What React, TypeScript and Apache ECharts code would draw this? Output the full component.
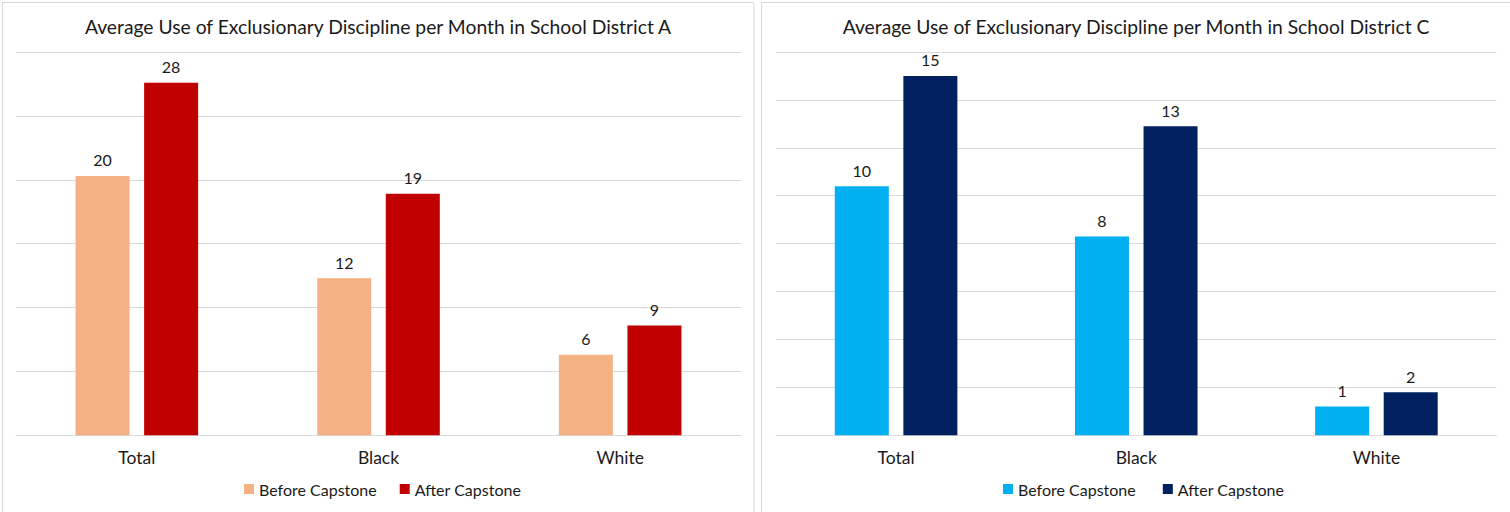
import React, { useEffect, useRef } from "react";
import * as echarts from "echarts";

const categories = ["Total", "Black", "White"];
const seriesNames = ["Before Capstone", "After Capstone"];
const districtABefore = [20.3, 12.3, 6.3];
const districtAAfter = [27.6, 18.9, 8.6];
const districtCBefore = [10.4, 8.3, 1.2];
const districtCAfter = [15.0, 12.9, 1.8];
const titles = [
  "Average Use of Exclusionary Discipline per Month in School District A",
  "Average Use of Exclusionary Discipline per Month in School District C",
];

const FONT = "Lato";
const TEXT = "#1a1a1a";
const GRID = "#d9d9d9";

export default function App() {
  const ref = useRef<HTMLDivElement>(null);
  useEffect(() => {
    document.body.style.margin = "0";
    const chart = echarts.init(ref.current!, null, { renderer: "svg" });
    const label = {
      show: true,
      position: "top",
      distance: 8,
      color: TEXT,
      fontFamily: FONT,
      fontSize: 16,
      formatter: (p: any) => String(Math.round(p.value)),
    };
    const mkSeries = (name: string, data: number[], color: string, idx: number) => ({
      type: "bar",
      name,
      data,
      xAxisIndex: idx,
      yAxisIndex: idx,
      barWidth: 54,
      barGap: "27%",
      itemStyle: { color },
      label,
    });
    const legendBase = {
      top: 476,
      icon: "rect",
      itemWidth: 10,
      itemHeight: 10,
      itemGap: 23,
      textStyle: { fontFamily: FONT, fontSize: 16, color: TEXT },
      selectedMode: false,
    };
    chart.setOption({
      animation: false,
      backgroundColor: "#ffffff",
      title: [373, 1131].map((x, i) => ({
        text: titles[i],
        left: x,
        textAlign: "center",
        top: 12,
        textStyle: { fontFamily: FONT, fontSize: 19.3, fontWeight: "normal", color: TEXT },
      })),
      legend: [
        {
          ...legendBase,
          left: 239,
          data: [
            { name: seriesNames[0], itemStyle: { color: "#F4B183" } },
            { name: seriesNames[1], itemStyle: { color: "#C00000" } },
          ],
        },
        {
          ...legendBase,
          left: 998,
          data: [
            { name: seriesNames[0] + " ", itemStyle: { color: "#00B0F0" } },
            { name: seriesNames[1] + " ", itemStyle: { color: "#002060" } },
          ],
        },
      ],
      grid: [
        { left: 16, width: 725, top: 52, height: 383.3 },
        { left: 776, width: 720.5, top: 52, height: 383.3 },
      ],
      xAxis: [0, 1].map((i) => ({
        type: "category",
        gridIndex: i,
        data: categories,
        axisLine: { lineStyle: { color: GRID } },
        axisTick: { show: false },
        axisLabel: { color: TEXT, fontFamily: FONT, fontSize: 17.5, margin: 13 },
      })),
      yAxis: [
        { type: "value", gridIndex: 0, min: 0, max: 30, interval: 5 },
        { type: "value", gridIndex: 1, min: 0, max: 16, interval: 2 },
      ].map((a) => ({
        ...a,
        axisLabel: { show: false },
        axisLine: { show: false },
        axisTick: { show: false },
        splitLine: { lineStyle: { color: GRID, width: 1 } },
      })),
      series: [
        mkSeries(seriesNames[0], districtABefore, "#F4B183", 0),
        mkSeries(seriesNames[1], districtAAfter, "#C00000", 0),
        mkSeries(seriesNames[0] + " ", districtCBefore, "#00B0F0", 1),
        mkSeries(seriesNames[1] + " ", districtCAfter, "#002060", 1),
      ],
      graphic: [
        {
          type: "rect",
          shape: { x: 2.5, y: 2.5, width: 751.5, height: 530 },
          style: { fill: "none", stroke: GRID, lineWidth: 1 },
          silent: true,
        },
        {
          type: "rect",
          shape: { x: 761.5, y: 2.5, width: 770, height: 530 },
          style: { fill: "none", stroke: GRID, lineWidth: 1 },
          silent: true,
        },
      ],
    });
    return () => chart.dispose();
  }, []);
  return (
    <div
      ref={ref}
      style={{ position: "fixed", left: 0, top: 0, width: 1510, height: 512 }}
    />
  );
}
